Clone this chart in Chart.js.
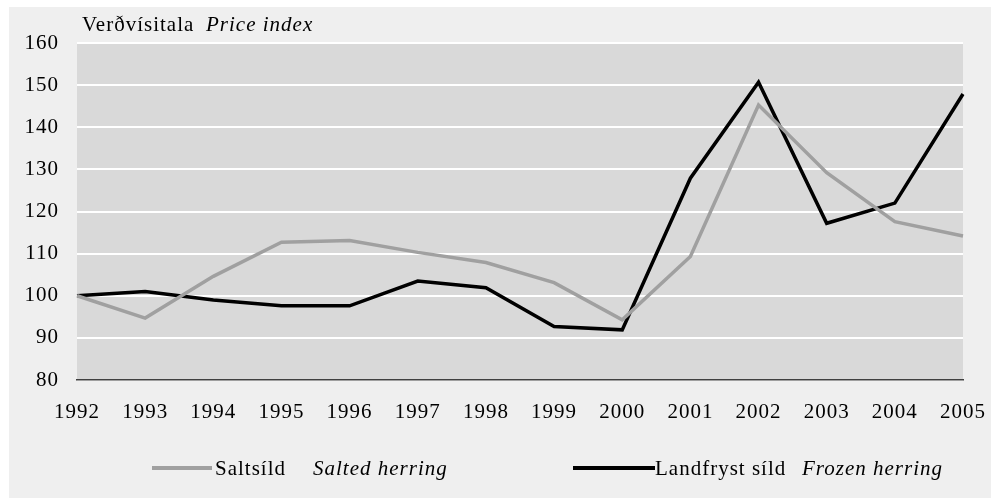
<!DOCTYPE html>
<html>
<head>
<meta charset="utf-8">
<script src="https://cdn.jsdelivr.net/npm/chart.js@4"></script>
<style>
  html, body { margin: 0; padding: 0; background: #fff; }
  #wrap { width: 991px; height: 498px; position: relative; }
</style>
</head>
<body>
<div id="wrap"><canvas id="price-chart"></canvas></div>
<script>
const years = ['1992', '1993', '1994', '1995', '1996', '1997', '1998',
  '1999', '2000', '2001', '2002', '2003', '2004', '2005'];
const saltedHerring = [100, 94.7, 104.6, 112.7, 113.1, 110.3, 107.9,
  103.1, 94.3, 109.3, 145.3, 129.2, 117.6, 114.2];
const frozenHerring = [100, 101.0, 99.0, 97.6, 97.6, 103.5, 101.9,
  92.7, 91.9, 127.9, 150.7, 117.2, 122.0, 147.9];
const yMin = 80;
const yMax = 160;
const yStep = 10;

const serif = '"Liberation Serif", "Times New Roman", serif';

// background box, plot area fill, title and legend text
const decor = {
  id: 'decor',
  beforeUpdate(chart) {
    chart.ctx.letterSpacing = '1px';
  },
  beforeDraw(chart) {
    const ctx = chart.ctx;
    const a = chart.chartArea;
    ctx.letterSpacing = '1px';
    ctx.save();
    ctx.fillStyle = '#efefef';
    ctx.fillRect(9, 7, chart.width - 9, chart.height - 7);
    ctx.fillStyle = '#d9d9d9';
    ctx.fillRect(a.left, a.top, a.right - a.left, a.bottom - a.top);
    ctx.restore();
  },
  afterDraw(chart) {
    const ctx = chart.ctx;
    ctx.save();
    ctx.fillStyle = '#000';
    ctx.textBaseline = 'alphabetic';
    ctx.textAlign = 'left';

    ctx.font = '21px ' + serif;
    ctx.fillText('Verðvísitala', 82, 31);
    ctx.font = 'italic 21px ' + serif;
    ctx.fillText('Price index', 206, 31);

    // legend
    ctx.lineWidth = 4;
    ctx.strokeStyle = '#a0a0a0';
    ctx.beginPath();
    ctx.moveTo(152, 468);
    ctx.lineTo(212, 468);
    ctx.stroke();
    ctx.strokeStyle = '#000';
    ctx.beginPath();
    ctx.moveTo(573, 468);
    ctx.lineTo(655, 468);
    ctx.stroke();

    ctx.font = '21px ' + serif;
    ctx.fillText('Saltsíld', 215, 475);
    ctx.fillText('Landfryst síld', 655, 475);
    ctx.font = 'italic 21px ' + serif;
    ctx.fillText('Salted herring', 313, 475);
    ctx.fillText('Frozen herring', 802, 475);
    ctx.restore();
  }
};

new Chart(document.getElementById('price-chart'), {
  type: 'line',
  data: {
    labels: years,
    datasets: [{
      label: 'Saltsíld',
      data: saltedHerring,
      borderColor: '#a0a0a0',
      borderWidth: 3.5,
      pointRadius: 0,
      tension: 0
    }, {
      label: 'Landfryst síld',
      data: frozenHerring,
      borderColor: '#000',
      borderWidth: 3.5,
      pointRadius: 0,
      tension: 0
    }]
  },
  options: {
    responsive: true,
    maintainAspectRatio: false,
    animation: false,
    layout: { padding: { top: 43, right: 28, left: 0, bottom: 0 } },
    plugins: {
      legend: { display: false },
      tooltip: { enabled: false }
    },
    scales: {
      x: {
        offset: false,
        grid: { display: false },
        border: { color: '#404040', width: 1.5 },
        ticks: {
          color: '#000',
          font: { family: serif, size: 21 },
          autoSkip: false,
          maxRotation: 0,
          padding: 12
        },
        afterFit(scale) {
          scale.height = 118;
          scale.paddingLeft = 0;
          scale.paddingRight = 0;
        }
      },
      y: {
        min: yMin,
        max: yMax,
        grid: { color: '#fff', lineWidth: 2, drawTicks: false },
        border: { display: false },
        ticks: {
          stepSize: yStep,
          color: '#000',
          font: { family: serif, size: 21 },
          padding: 18
        },
        afterFit(scale) { scale.width = 77; }
      }
    }
  },
  plugins: [decor]
});
</script>
</body>
</html>
